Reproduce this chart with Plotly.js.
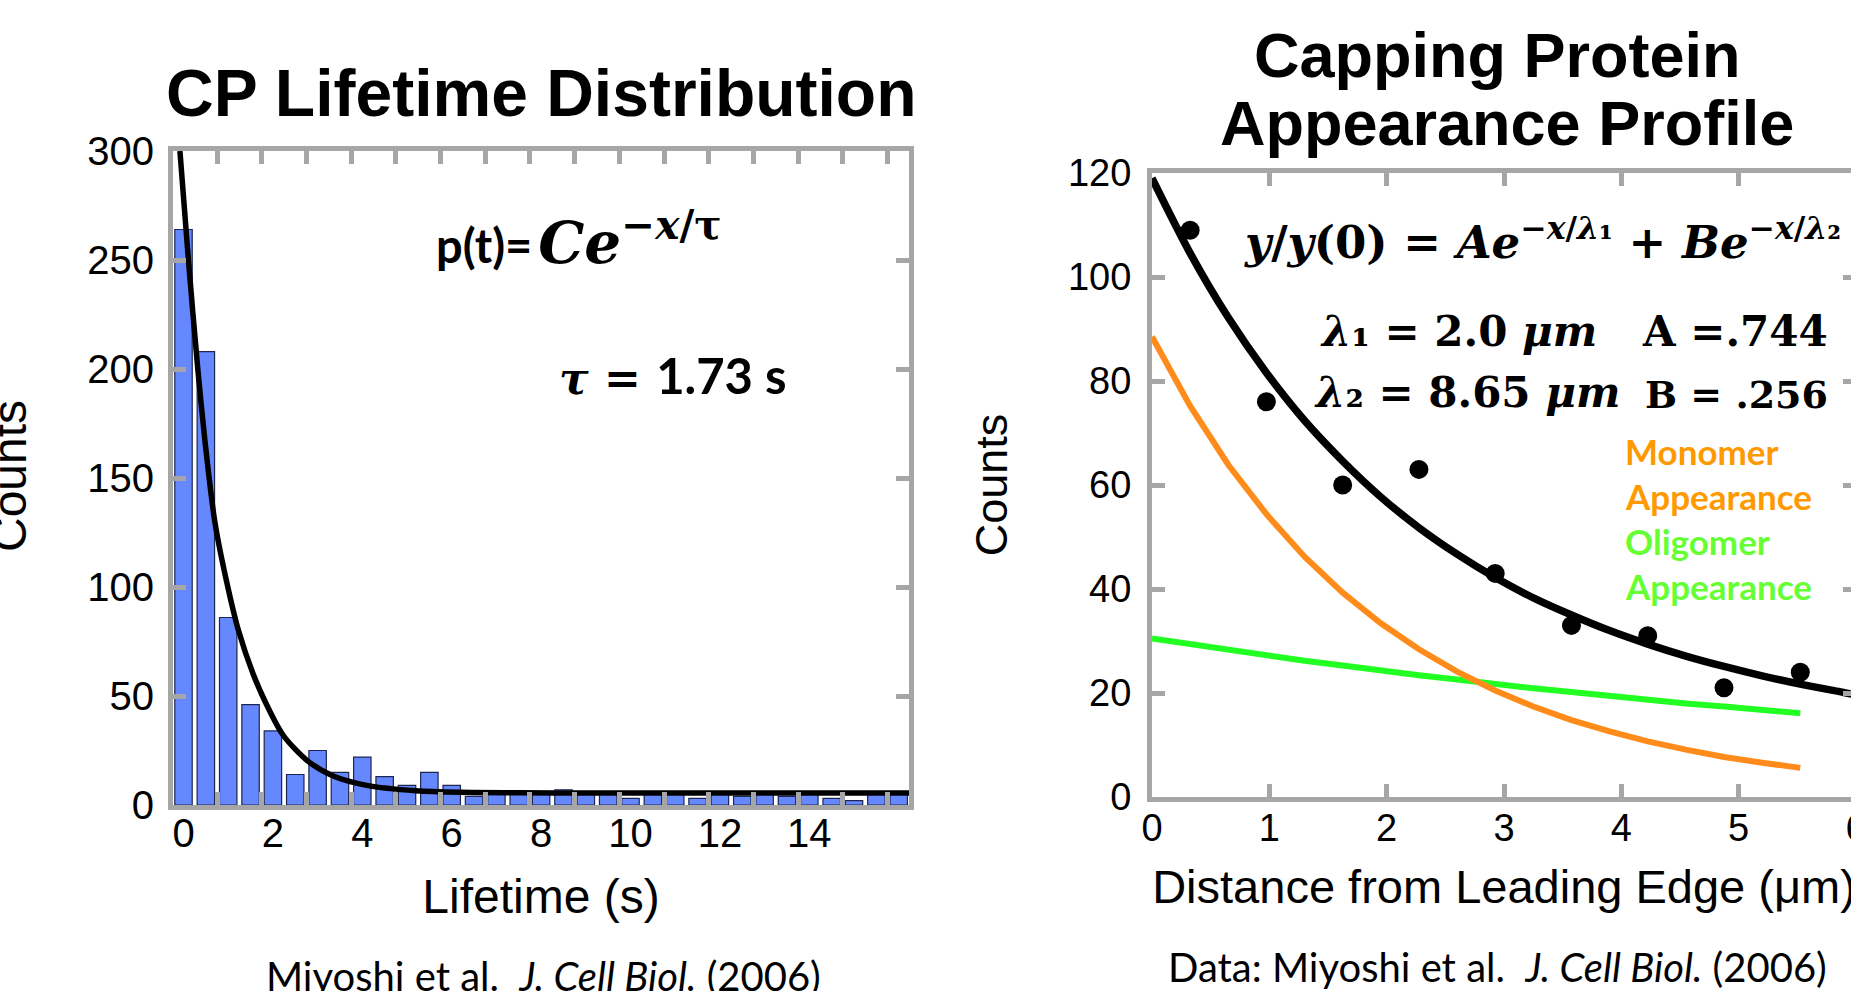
<!DOCTYPE html>
<html>
<head>
<meta charset="utf-8">
<script src="https://cdn.plot.ly/plotly-3.0.1.min.js"></script>
<style>
html,body{margin:0;padding:0;overflow:hidden;background:#ffffff;}
#chart{width:1870px;height:991px;}
</style>
</head>
<body>
<div id="chart"></div>
<script>
// ---------------- DATA: left chart (CP lifetime histogram) ----------------
const lifetimeBins = [0,0.5,1,1.5,2,2.5,3,3.5,4,4.5,5,5.5,6,6.5,7,7.5,8,8.5,9,9.5,10,10.5,11,11.5,12,12.5,13,13.5,14,14.5,15,15.5,16];
const lifetimeCounts = [264,208,86,46,34,14,25,15,22,13,9,15,9,4,5,5,5,7,5,5,3,5,5,3,5,4,5,4,5,3,2,5,5];
const lifetimeFitX = [-0.08,0.11,0.32,0.48,0.7,0.97,1.23,1.56,1.86,2.23,2.76,3.35,4.1,5.2,6.2,7.5,9,11,13,15,16.23];
const lifetimeFitY = [300,250,200,167,130,102,80,60,46,32,20.5,13.3,9,6.5,5.8,5.6,5.5,5.5,5.5,5.5,5.5];
const lifetimeTickVals = [0,2,4,6,8,10,12,14];
const lifetimeMinorTicks = [0.75,1.75,2.75,3.75,4.75,5.75,6.75,7.75,8.75,9.75,10.75,11.75,12.75,13.75,14.75,15.75];
const lifetimeCountTicks = [0,50,100,150,200,250,300];

// ---------------- DATA: right chart (appearance profile) ----------------
const distanceX = [0.325,0.975,1.625,2.275,2.925,3.575,4.225,4.875,5.525];
const appearanceCounts = [109,76,60,63,43,33,31,21,24];
const totalFitX = [0,0.325,0.65,0.975,1.3,1.625,1.95,2.275,2.6,2.925,3.25,3.575,3.9,4.225,4.55,4.875,5.2,5.525,5.85,6.0];
const totalFitY = [119.0,104.6,92.2,81.6,72.4,64.6,57.7,51.8,46.7,42.2,38.3,35.0,32.0,29.4,27.1,25.1,23.3,21.7,20.3,19.6];
const componentX = [0,0.325,0.65,0.975,1.3,1.625,1.95,2.275,2.6,2.925,3.25,3.575,3.9,4.225,4.55,4.875,5.2,5.525];
const monomerFitY = [88.5,75.2,63.9,54.4,46.2,39.3,33.4,28.4,24.1,20.5,17.4,14.8,12.6,10.7,9.1,7.7,6.6,5.6];
const oligomerFitY = [30.5,29.4,28.3,27.2,26.2,25.3,24.3,23.4,22.6,21.7,20.9,20.2,19.4,18.7,18.0,17.4,16.7,16.1];
const distanceTicks = [0,1,2,3,4,5,6];
const profileCountTicks = [0,20,40,60,80,100,120];

// ---------------- STYLE ----------------
const W = 1870, H = 991;
const GRAY = '#a6a6a6';
const SANS = 'Liberation Sans, Arial, sans-serif';
const SERIF = 'DejaVu Serif, serif';
const CAL = 'Lato, Noto Sans, sans-serif';
function px(x){ return x / W; }
function py(y){ return 1 - y / H; }

const traces = [
  {type:'bar', x:lifetimeBins, y:lifetimeCounts, width:0.39, xaxis:'x', yaxis:'y',
   marker:{color:'#6688ff', line:{color:'#1c2650', width:1.2}}, hoverinfo:'skip'},
  {type:'scatter', mode:'lines', x:lifetimeFitX, y:lifetimeFitY, xaxis:'x', yaxis:'y',
   line:{color:'#000000', width:5.5, shape:'spline', smoothing:0.8}, hoverinfo:'skip'},
  {type:'scatter', mode:'lines', x:componentX, y:oligomerFitY, xaxis:'x2', yaxis:'y2',
   line:{color:'#22ff22', width:6}, hoverinfo:'skip'},
  {type:'scatter', mode:'lines', x:componentX, y:monomerFitY, xaxis:'x2', yaxis:'y2',
   line:{color:'#ff8c1a', width:6}, hoverinfo:'skip'},
  {type:'scatter', mode:'lines', x:totalFitX, y:totalFitY, xaxis:'x2', yaxis:'y2',
   line:{color:'#000000', width:7.5, shape:'spline', smoothing:0.8}, hoverinfo:'skip'},
  {type:'scatter', mode:'markers', x:distanceX, y:appearanceCounts, xaxis:'x2', yaxis:'y2',
   marker:{color:'#000000', size:19}, hoverinfo:'skip'}
];

const tickFont = {family:SANS, size:40, color:'#000'};
const tickFont2 = {family:SANS, size:38, color:'#000'};
const axisCommon = {showline:true, linecolor:GRAY, linewidth:5, mirror:'allticks', showgrid:false,
  zeroline:false, fixedrange:true, ticks:'inside', ticklen:13, tickwidth:5, tickcolor:GRAY};

function note(text, x, y, font, extra){
  return Object.assign({xref:'paper', yref:'paper', x:px(x), y:py(y), xanchor:'left', yanchor:'bottom',
    showarrow:false, text:text, font:font}, extra || {});
}

const layout = {
  width:W, height:H, margin:{l:0,r:0,t:0,b:0}, paper_bgcolor:'#fff', plot_bgcolor:'#fff',
  showlegend:false, bargap:0,
  xaxis: Object.assign({}, axisCommon, {
    domain:[px(173), px(909)], anchor:'y', range:[-0.235,16.23],
    tickmode:'array', tickvals:lifetimeTickVals, ticklen:0, tickfont:tickFont, ticklabelstandoff:-11,
    minor:{tickmode:'array', tickvals:lifetimeMinorTicks, ticks:'inside', ticklen:13, tickwidth:5, tickcolor:GRAY},
    title:{text:'Lifetime (s)', font:{family:SANS, size:48, color:'#000'}, standoff:27}
  }),
  yaxis: Object.assign({}, axisCommon, {
    domain:[py(805), py(151)], anchor:'x', range:[0,300],
    tickmode:'array', tickvals:lifetimeCountTicks, tickfont:tickFont, ticklabelstandoff:6
  }),
  xaxis2: Object.assign({}, axisCommon, {
    domain:[px(1152), px(1856)], anchor:'y2', range:[0,6],
    tickmode:'array', tickvals:distanceTicks, tickfont:tickFont2, ticklabelstandoff:-7,
    title:{text:'Distance from Leading Edge (μm)', font:{family:SANS, size:47, color:'#000'}, standoff:24}
  }),
  yaxis2: Object.assign({}, axisCommon, {
    domain:[py(797), py(173)], anchor:'x2', range:[0,120],
    tickmode:'array', tickvals:profileCountTicks, tickfont:tickFont2, ticklabelstandoff:8,
    title:{text:'Counts', font:{family:SANS, size:45, color:'#000'}, standoff:48}
  }),
  annotations: [
    // left y-axis title, partly beyond the left edge as in the original
    note('Counts', 9, 476, {family:SANS, size:48, color:'#000'}, {xanchor:'center', yanchor:'middle', textangle:-90}),
    note('<b>CP Lifetime Distribution</b>', 541, 93, {family:SANS, size:66, color:'#000'}, {xanchor:'center', yanchor:'middle'}),
    note('<b>Capping Protein</b>', 1497, 55, {family:SANS, size:63, color:'#000'}, {xanchor:'center', yanchor:'middle'}),
    note('<b>Appearance Profile</b>', 1507, 123, {family:SANS, size:63, color:'#000'}, {xanchor:'center', yanchor:'middle'}),
    note('<span style="font-family:Lato;font-size:47px">p(t)=\u2009</span><i>Ce</i><sup><i>−x</i>/τ</sup>', 434, 279,
         {family:SERIF, size:58, color:'#000', weight:'bold'}),
    note('<i>τ</i> = <span style="font-family:Lato;font-size:49px">1.73 s</span>', 557, 406,
         {family:SERIF, size:44, color:'#000', weight:'bold'}),
    note('<i>y</i>/<i>y</i>(0) = <i>Ae</i><sup>−<i>x</i>/<i>λ</i>₁</sup> + <i>Be</i><sup>−<i>x</i>/<i>λ</i>₂</sup>', 1242, 271,
         {family:SERIF, size:45, color:'#000', weight:'bold'}),
    note('<i>λ</i>₁ = 2.0 <i>μm</i>', 1318, 358, {family:SERIF, size:42, color:'#000', weight:'bold'}),
    note('A =.744', 1830, 358, {family:SERIF, size:42, color:'#000', weight:'bold'}, {xanchor:'right'}),
    note('<i>λ</i>₂ = 8.65 <i>μm</i>', 1312, 419, {family:SERIF, size:42, color:'#000', weight:'bold'}),
    note('B = .256', 1830, 419, {family:SERIF, size:38, color:'#000', weight:'bold'}, {xanchor:'right'}),
    note('<b>Monomer</b>', 1623, 451, {family:CAL, size:35, color:'#ff9900'}, {yanchor:'middle'}),
    note('<b>Appearance</b>', 1623, 496, {family:CAL, size:35, color:'#ff9900'}, {yanchor:'middle'}),
    note('<b>Oligomer</b>', 1623, 541, {family:CAL, size:35, color:'#66ff33'}, {yanchor:'middle'}),
    note('<b>Appearance</b>', 1623, 586, {family:CAL, size:35, color:'#66ff33'}, {yanchor:'middle'}),
    note('Miyoshi et al.  <i>J. Cell Biol.</i> (2006)', 543, 976, {family:CAL, size:40, color:'#000'}, {xanchor:'center', yanchor:'middle'}),
    note('Data: Miyoshi et al.  <i>J. Cell Biol.</i> (2006)', 1497, 967, {family:CAL, size:40, color:'#000'}, {xanchor:'center', yanchor:'middle'})
  ]
};

Plotly.newPlot('chart', traces, layout, {staticPlot:true, displayModeBar:false});
</script>
</body>
</html>
